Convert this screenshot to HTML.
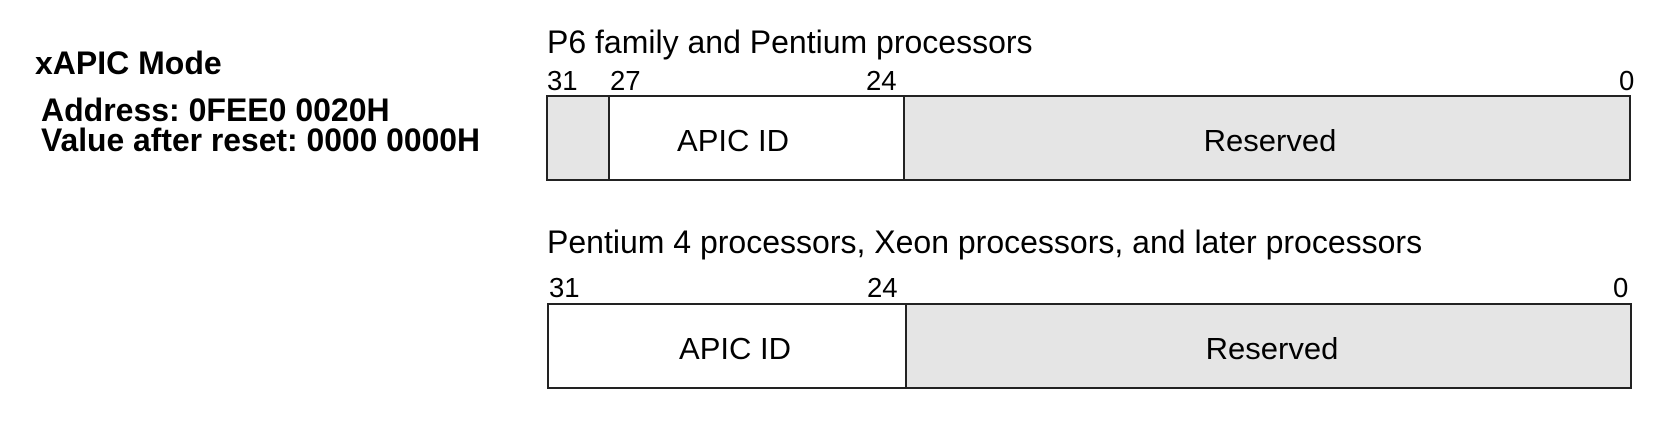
<!DOCTYPE html>
<html><head><style>html,body{margin:0;padding:0;background:#fff;}svg{display:block}</style></head>
<body>
<svg width="1674" height="426" xmlns="http://www.w3.org/2000/svg" font-family="Liberation Sans, Arial, sans-serif">
<rect width="1674" height="426" fill="#fff"/>
<g font-weight="bold" font-size="32" fill="#000">
<text x="35" y="74">xAPIC Mode</text>
<text x="41" y="121">Address: 0FEE0 0020H</text>
<text x="41" y="151" textLength="439" lengthAdjust="spacingAndGlyphs">Value after reset: 0000 0000H</text>
</g>
<g font-size="32" fill="#000">
<text x="547" y="53">P6 family and Pentium processors</text>
<text x="547" y="253">Pentium 4 processors, Xeon processors, and later processors</text>
</g>
<g font-size="27.5" fill="#000">
<text x="547" y="90">31</text>
<text x="610" y="90">27</text>
<text x="866" y="90">24</text>
<text x="1619" y="90">0</text>
<text x="549" y="297">31</text>
<text x="867" y="297">24</text>
<text x="1613" y="297">0</text>
</g>
<g stroke="#222" stroke-width="2">
<rect x="547" y="96" width="1083" height="84" fill="#e5e5e5"/>
<rect x="609" y="96" width="295" height="84" fill="#fff"/>
<rect x="548" y="304" width="1083" height="84" fill="#e5e5e5"/>
<rect x="548" y="304" width="358" height="84" fill="#fff"/>
</g>
<g font-size="31" fill="#000" text-anchor="middle">
<text x="733" y="151">APIC ID</text>
<text x="1270" y="151">Reserved</text>
<text x="735" y="359">APIC ID</text>
<text x="1272" y="359">Reserved</text>
</g>
</svg>
</body></html>
